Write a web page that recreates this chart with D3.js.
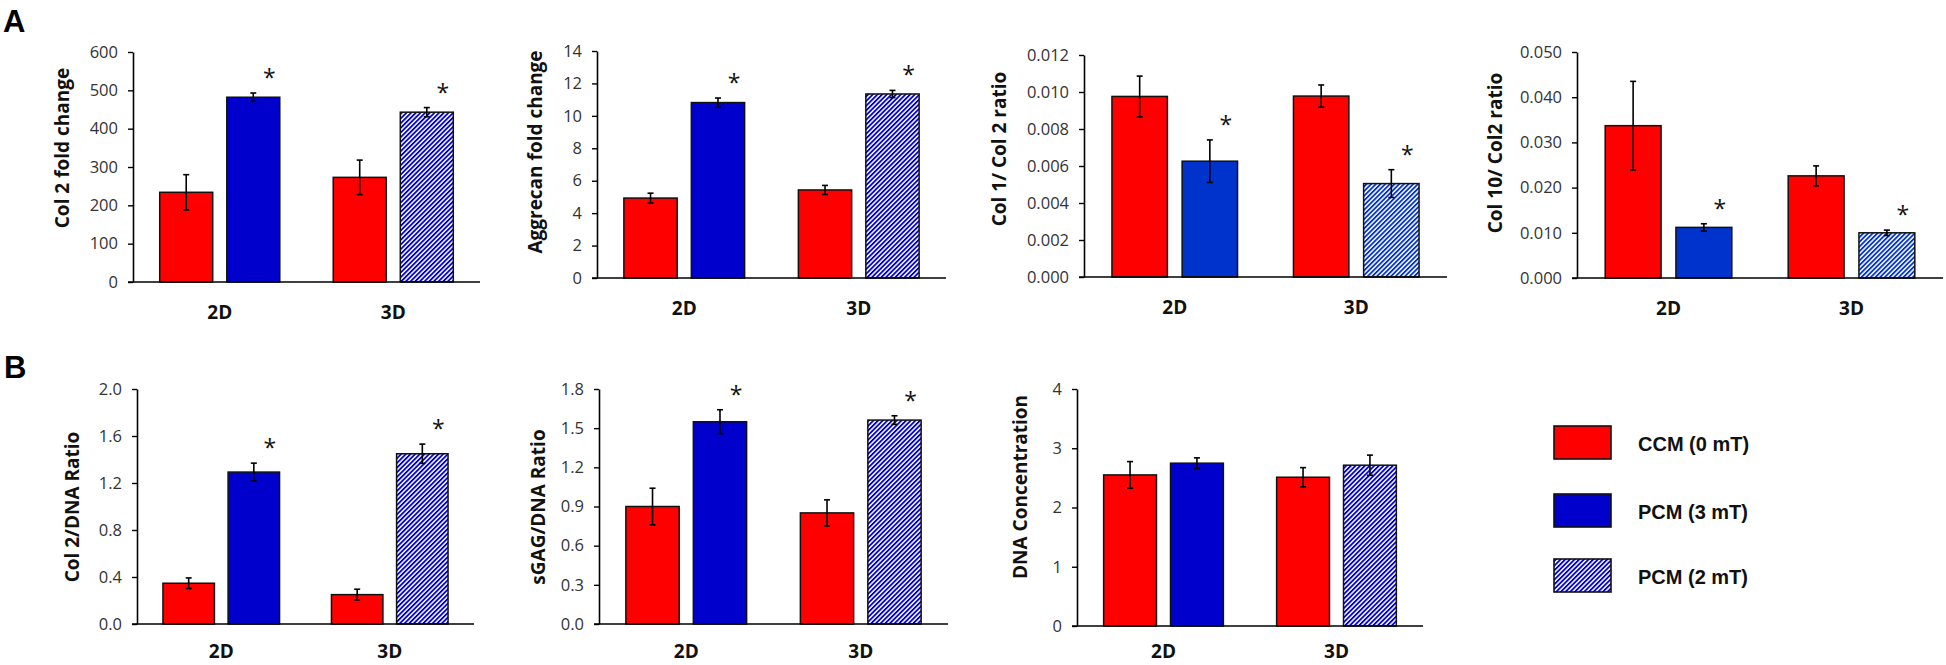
<!DOCTYPE html>
<html>
<head>
<meta charset="utf-8">
<script src="https://cdn.jsdelivr.net/npm/d3@7"></script>
<style>
  html, body { margin: 0; padding: 0; background: #fff; }
  svg { display: block; }
</style>
</head>
<body>
<svg id="chart" width="1946" height="665"></svg>
<script>
// ---------------- DATA ----------------
const categories = ["2D", "3D"];
const seriesNames = ["CCM (0 mT)", "PCM (3 mT)", "PCM (2 mT)"];

// each array: [CCM 2D, PCM 2D, CCM 3D, PCM 3D]
const col2FoldMean = [234, 482, 273, 443];
const col2FoldErr = [46, 11, 45, 12];
const aggrecanMean = [4.93, 10.82, 5.43, 11.35];
const aggrecanErr = [0.30, 0.28, 0.28, 0.22];
const col1Col2Mean = [0.00976, 0.00626, 0.00978, 0.00505];
const col1Col2Err = [0.0011, 0.00115, 0.0006, 0.00075];
const col10Col2Mean = [0.0337, 0.0112, 0.0226, 0.0100];
const col10Col2Err = [0.0098, 0.0008, 0.0022, 0.0006];
const col2DnaMean = [0.347, 1.293, 0.25, 1.449];
const col2DnaErr = [0.045, 0.076, 0.046, 0.082];
const sgagDnaMean = [0.90, 1.549, 0.851, 1.562];
const sgagDnaErr = [0.14, 0.092, 0.10, 0.033];
const dnaMean = [2.55, 2.748, 2.511, 2.714];
const dnaErr = [0.225, 0.09, 0.162, 0.17];

// significance marks: [CCM 2D, PCM 2D, CCM 3D, PCM 3D]
const starsStd = [false, true, false, true];
const starsNone = [false, false, false, false];

// tick values
const col2FoldTicks = [0, 100, 200, 300, 400, 500, 600];
const aggrecanTicks = [0, 2, 4, 6, 8, 10, 12, 14];
const col1Col2Ticks = [0, 0.002, 0.004, 0.006, 0.008, 0.010, 0.012];
const col10Col2Ticks = [0, 0.010, 0.020, 0.030, 0.040, 0.050];
const col2DnaTicks = [0, 0.4, 0.8, 1.2, 1.6, 2.0];
const sgagDnaTicks = [0, 0.3, 0.6, 0.9, 1.2, 1.5, 1.8];
const dnaTicks = [0, 1, 2, 3, 4];

const yLabels = ["Col 2 fold change", "Aggrecan fold change", "Col 1/ Col 2 ratio",
  "Col 10/ Col2 ratio", "Col 2/DNA Ratio", "sGAG/DNA Ratio", "DNA Concentration"];

// ---------------- LAYOUT ----------------
const panels = [
  { label: yLabels[0], mean: col2FoldMean, err: col2FoldErr, ticks: col2FoldTicks, fmt: "d", stars: starsStd,
    ax: 133, right: 480, top: 52, bottom: 282, lx: 62, ly: 148, blue: "#0000CC", catDy: 30 },
  { label: yLabels[1], mean: aggrecanMean, err: aggrecanErr, ticks: aggrecanTicks, fmt: "d", stars: starsStd,
    ax: 597, right: 946, top: 51, bottom: 278, lx: 535, ly: 152, blue: "#0000CC", catDy: 30 },
  { label: yLabels[2], mean: col1Col2Mean, err: col1Col2Err, ticks: col1Col2Ticks, fmt: ".3f", stars: starsStd,
    ax: 1084, right: 1447, top: 55, bottom: 277, lx: 999, ly: 149, blue: "#0033CC", catDy: 30 },
  { label: yLabels[3], mean: col10Col2Mean, err: col10Col2Err, ticks: col10Col2Ticks, fmt: ".3f", stars: starsStd,
    ax: 1577, right: 1943, top: 52, bottom: 278, lx: 1495, ly: 153, blue: "#0033CC", catDy: 30 },
  { label: yLabels[4], mean: col2DnaMean, err: col2DnaErr, ticks: col2DnaTicks, fmt: ".1f", stars: starsStd,
    ax: 137, right: 474, top: 389, bottom: 624, lx: 72, ly: 507, blue: "#0000CC", catDy: 27 },
  { label: yLabels[5], mean: sgagDnaMean, err: sgagDnaErr, ticks: sgagDnaTicks, fmt: ".1f", stars: starsStd,
    ax: 599, right: 948, top: 389, bottom: 624, lx: 538, ly: 507, blue: "#0000CC", catDy: 27 },
  { label: yLabels[6], mean: dnaMean, err: dnaErr, ticks: dnaTicks, fmt: "d", stars: starsNone,
    ax: 1077, right: 1423, top: 389, bottom: 626, lx: 1020, ly: 487, blue: "#0000CC", catDy: 25 }
];

const svg = d3.select("#chart");
const defs = svg.append("defs");
const RED = "#FF0000";
const tickFont = "'Open Sans', sans-serif";

function hatchId(color) {
  const id = "hatch" + color.replace("#", "");
  if (defs.select("#" + id).empty()) {
    const p = defs.append("pattern")
      .attr("id", id)
      .attr("patternUnits", "userSpaceOnUse")
      .attr("width", 3.3).attr("height", 10)
      .attr("patternTransform", "rotate(45)");
    p.append("rect").attr("width", 3.3).attr("height", 10).attr("fill", "#fff");
    p.append("rect").attr("width", 1.8).attr("height", 10).attr("fill", color);
  }
  return "url(#" + id + ")";
}

// panel letters
svg.append("text").attr("x", 3).attr("y", 32).text("A")
  .attr("font-family", "'Liberation Sans', Arial, sans-serif").attr("font-weight", "bold").attr("font-size", 31);
svg.append("text").attr("x", 4).attr("y", 378).text("B")
  .attr("font-family", "'Liberation Sans', Arial, sans-serif").attr("font-weight", "bold").attr("font-size", 31);

panels.forEach(P => {
  const g = svg.append("g");
  const ymax = d3.max(P.ticks);
  const y = d3.scaleLinear().domain([0, ymax]).range([P.bottom, P.top]);
  const x0 = d3.scaleBand().domain(categories).range([P.ax, P.right]);
  const bw = x0.bandwidth();
  const x1 = d3.scaleBand().domain([0, 1]).range([bw * 0.154, bw * 0.846]).paddingInner(0.21);

  const bars = P.mean.map((v, i) => ({
    cat: categories[Math.floor(i / 2)],
    sub: i % 2,
    value: v,
    err: P.err[i],
    star: P.stars[i],
    fill: i % 2 === 0 ? RED : (i === 1 ? P.blue : hatchId(P.blue))
  }));

  // y axis
  const yAxis = d3.axisLeft(y).tickValues(P.ticks).tickSize(5).tickPadding(10)
    .tickFormat(d3.format(P.fmt)).tickSizeOuter(0);
  const ya = g.append("g").attr("transform", `translate(${P.ax},0)`).call(yAxis);
  ya.select(".domain").attr("stroke", "#000").attr("stroke-width", 1.6);
  ya.selectAll(".tick line").attr("stroke", "#000").attr("stroke-width", 1.4);
  ya.selectAll(".tick text").attr("font-family", tickFont).attr("font-size", 16.5).attr("fill", "#333");

  // bars
  g.selectAll("rect.bar").data(bars).join("rect")
    .attr("class", "bar")
    .attr("x", d => x0(d.cat) + x1(d.sub))
    .attr("width", x1.bandwidth())
    .attr("y", d => y(d.value))
    .attr("height", d => y(0) - y(d.value))
    .attr("fill", d => d.fill)
    .attr("stroke", "#111")
    .attr("stroke-width", 1.5);

  // error bars
  const cx = d => x0(d.cat) + x1(d.sub) + x1.bandwidth() / 2;
  const eb = g.selectAll("g.err").data(bars).join("g").attr("class", "err")
    .attr("stroke", "#000").attr("stroke-width", 1.6);
  eb.append("line").attr("x1", cx).attr("x2", cx)
    .attr("y1", d => y(d.value + d.err)).attr("y2", d => y(d.value - d.err));
  eb.append("line").attr("x1", d => cx(d) - 3).attr("x2", d => cx(d) + 3)
    .attr("y1", d => y(d.value + d.err)).attr("y2", d => y(d.value + d.err));
  eb.append("line").attr("x1", d => cx(d) - 3).attr("x2", d => cx(d) + 3)
    .attr("y1", d => y(d.value - d.err)).attr("y2", d => y(d.value - d.err));

  // asterisks
  g.selectAll("text.star").data(bars.filter(d => d.star)).join("text")
    .attr("class", "star")
    .attr("x", d => cx(d) + 16)
    .attr("y", d => y(d.value + d.err) - 19 + 12)
    .attr("text-anchor", "middle")
    .attr("font-family", tickFont).attr("font-size", 23).attr("fill", "#111")
    .text("*");

  // x axis line
  g.append("line").attr("x1", P.ax - 5).attr("x2", P.right)
    .attr("y1", P.bottom).attr("y2", P.bottom)
    .attr("stroke", "#000").attr("stroke-width", 1.6);

  // category labels
  g.selectAll("text.cat").data(categories).join("text")
    .attr("class", "cat")
    .attr("x", d => x0(d) + bw / 2)
    .attr("y", P.bottom + P.catDy)
    .attr("dy", "0.36em")
    .attr("text-anchor", "middle")
    .attr("font-family", tickFont).attr("font-weight", "bold").attr("font-size", 19).attr("fill", "#111")
    .text(d => d);

  // y label
  g.append("text")
    .attr("transform", `translate(${P.lx},${P.ly}) rotate(-90)`)
    .attr("text-anchor", "middle")
    .attr("dy", "0.36em")
    .attr("font-family", tickFont).attr("font-weight", "bold").attr("font-size", 19).attr("fill", "#111")
    .text(P.label);
});

// legend
const legendFills = [RED, "#0000CC", hatchId("#0000CC")];
const legendY = [426, 494, 559];
const lg = svg.append("g");
seriesNames.forEach((name, i) => {
  lg.append("rect").attr("x", 1554).attr("y", legendY[i]).attr("width", 57).attr("height", 33)
    .attr("fill", legendFills[i]).attr("stroke", "#111").attr("stroke-width", 1.6);
  lg.append("text").attr("x", 1638).attr("y", legendY[i] + 18).attr("dy", "0.36em")
    .attr("font-family", "'Liberation Sans', Arial, sans-serif").attr("font-weight", "bold")
    .attr("font-size", 20).attr("fill", "#111").text(name);
});
</script>
</body>
</html>
